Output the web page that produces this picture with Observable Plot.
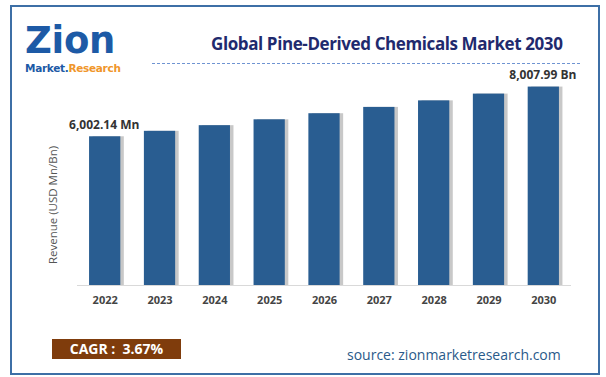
<!DOCTYPE html>
<html><head><meta charset="utf-8">
<script src="https://cdn.jsdelivr.net/npm/d3@7"></script>
<script src="https://cdn.jsdelivr.net/npm/@observablehq/plot@0.6"></script>
<style>
body{margin:0;background:#fff;font-family:"Open Sans",sans-serif;}
#wrap{position:relative;width:606px;height:377px;overflow:hidden;}
#wrap svg{position:absolute;left:0;top:0;}
.abs{position:absolute;white-space:nowrap;}
</style></head>
<body>
<div id="wrap">
  <div class="abs" style="left:10px;top:5px;width:586px;height:366px;border:2px solid #3d6fa6;"></div>
  <div class="abs" style="left:25px;top:19px;font-family:'DejaVu Sans';font-weight:bold;font-size:37px;line-height:normal;color:#1d5aa6;letter-spacing:-0.3px;">Zion</div>
  <div class="abs" style="left:25px;top:63px;font-family:'DejaVu Sans';font-weight:bold;font-size:10.5px;line-height:11px;letter-spacing:-0.3px;"><span style="color:#1d5aa6">Market.</span><span style="color:#f0962a">Research</span></div>
  <div class="abs" id="title" style="left:211px;top:32px;font-family:'Open Sans';font-weight:bold;font-size:17px;color:#1f2a6e;letter-spacing:-0.4px;">Global Pine-Derived Chemicals Market 2030</div>
  <div class="abs" style="left:152px;top:63px;width:428px;border-top:1.5px dashed #6f94d2;"></div>
  <div class="abs" style="left:52px;top:205px;transform:translate(-50%,-50%) rotate(-90deg);font-size:11.5px;color:#555;">Revenue (USD Mn/Bn)</div>
  <div class="abs" style="left:52px;top:339px;width:129px;height:20px;background:#7f3c0c;color:#fff;font-weight:bold;font-size:14px;line-height:20px;text-align:center;">CAGR :&nbsp; 3.67%</div>
  <div class="abs" style="left:347px;top:345px;font-size:14px;color:#2a5a8a;">source: zionmarketresearch.com</div>
</div>
<script>
const years = ["2022","2023","2024","2025","2026","2027","2028","2029","2030"];
const revenue = [6002.14, 6222.4, 6450.8, 6687.6, 6933.0, 7187.5, 7451.3, 7724.7, 8007.99];
const endLabels = ["6,002.14 Mn", "", "", "", "", "", "", "", "8,007.99 Bn"];

const data = years.map((y, i) => ({year: y, value: revenue[i], label: endLabels[i]}));

const chart = Plot.plot({
  width: 606,
  height: 377,
  marginLeft: 77,
  marginRight: 35,
  marginTop: 62,
  marginBottom: 92,
  x: {domain: years, paddingInner: 0.43, paddingOuter: 0.22, round: false, label: null},
  y: {domain: [0, 9000], axis: null},
  style: {fontFamily: "Open Sans", background: "transparent", overflow: "visible"},
  marks: [
    Plot.barY(data, {x: "year", y: "value", fill: "#9a9a9a", dx: 3.5, opacity: 0.55, style: "filter:blur(2px)"}),
    Plot.barY(data, {x: "year", y: "value", fill: "#295d91"}),
    Plot.ruleY([0], {stroke: "#d9d9d9", strokeWidth: 1}),
    Plot.text(data.filter(d => d.label), {x: "year", y: "value", text: "label", dy: -12, dx: -1, fontWeight: "bold", fontSize: 12, fill: "#333"}),
    Plot.axisX({tickSize: 0, tickPadding: 11, fontSize: 11, fontWeight: "bold", color: "#444", label: null})
  ]
});
document.getElementById("wrap").prepend(chart);
</script>
</body></html>
